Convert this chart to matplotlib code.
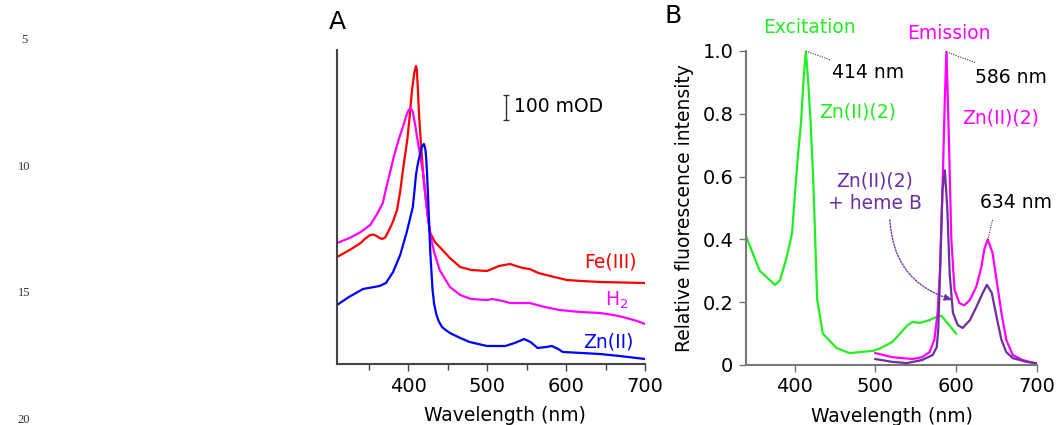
import numpy as np
import matplotlib
matplotlib.use("Agg")
import matplotlib.pyplot as plt

# ---- panel A: absorbance (mOD, offset traces) ----
fe_wl = [310, 326, 340, 345, 352, 356, 360, 363, 367, 371, 376, 381, 386, 390, 393, 395, 399, 402, 405,
         408, 410, 411, 412.5, 414, 416, 419, 421, 424, 426, 428, 434, 440, 453, 466, 480, 500, 515,
         529, 545, 554, 565, 580, 601, 620, 643, 700]
fe_od = [428, 456, 484, 500, 516, 518, 512, 506, 500, 506, 536, 570, 616, 690, 764, 810, 896, 990, 1096,
         1168, 1192, 1180, 1096, 990, 896, 764, 700, 616, 568, 524, 488, 468, 424, 388, 376, 372, 392,
         400, 384, 380, 364, 352, 336, 332, 328, 324]

h2_wl = [310, 326, 340, 352, 360, 368, 372, 377, 382, 388, 392, 395, 398, 400, 403, 406, 409, 412, 419,
         424, 428, 433, 440, 453, 466, 480, 500, 507, 520, 529, 554, 573, 592, 618, 643, 660, 672, 690, 700]
h2_od = [484, 504, 528, 556, 596, 644, 700, 764, 830, 896, 935, 964, 995, 1012, 1024, 1008, 956, 896, 764,
         616, 516, 448, 376, 308, 276, 260, 256, 260, 252, 244, 244, 228, 216, 208, 204, 196, 188, 172, 160]

zn_wl = [310, 325, 343, 364, 372, 381, 390, 394, 398, 402, 406, 408, 410, 412, 414, 417, 419, 420, 421,
         422, 423, 424, 425, 426, 427, 428, 429, 431, 433, 436, 439, 443, 448, 453, 466, 478, 500, 523,
         535, 547, 555, 564, 575, 582, 590, 596, 620, 643, 668, 700]
zn_od = [236, 268, 300, 312, 324, 368, 436, 480, 524, 575, 628, 690, 756, 795, 824, 864, 876, 880, 872,
         856, 820, 764, 690, 616, 536, 456, 400, 296, 240, 196, 170, 148, 135, 124, 104, 88, 72, 72,
         84, 100, 88, 64, 68, 72, 60, 48, 44, 40, 32, 20]

# ---- panel B: fluorescence ----
ex_wl = [340, 357, 376, 382, 390, 397, 400, 404, 408, 411, 414, 417, 420, 423, 425, 428, 435, 452,
         468, 497, 505, 521, 540, 546, 555, 567, 578, 582, 589, 600]
ex_int = [0.41, 0.30, 0.255, 0.27, 0.34, 0.42, 0.525, 0.66, 0.77, 0.90, 1.0, 0.90, 0.77, 0.60, 0.45, 0.21,
          0.10, 0.054, 0.038, 0.045, 0.052, 0.073, 0.127, 0.137, 0.134, 0.143, 0.156, 0.156, 0.134, 0.10]

em_wl = [500, 521, 546, 558, 567, 573, 577, 580, 583, 586, 588, 591, 594, 598, 604, 610, 617, 625,
         631, 635, 639, 645, 650, 656, 662, 670, 682, 697, 700]
em_int = [0.038, 0.025, 0.019, 0.025, 0.041, 0.08, 0.166, 0.30, 0.55, 0.85, 1.0, 0.72, 0.40, 0.24, 0.197,
          0.19, 0.207, 0.25, 0.31, 0.37, 0.40, 0.357, 0.27, 0.166, 0.08, 0.032, 0.016, 0.006, 0.005]

heme_wl = [500, 521, 539, 558, 571, 576, 578, 580, 583, 586, 589, 592, 596, 602, 608, 617, 625, 633,
           638, 644, 650, 656, 662, 670, 687, 700]
heme_int = [0.019, 0.01, 0.006, 0.016, 0.032, 0.057, 0.12, 0.29, 0.557, 0.62, 0.50, 0.29, 0.166, 0.127,
            0.118, 0.143, 0.185, 0.23, 0.255, 0.23, 0.153, 0.08, 0.041, 0.022, 0.01, 0.005]

RED, MAG, BLUE, GREEN, PURPLE = "#ff0000", "#ff00ff", "#0000ff", "#22ee22", "#6b2fa0"
FS = 13.5

plt.rcParams["font.family"] = ["DejaVu Sans"]
fig = plt.figure(figsize=(10.58, 4.25), dpi=100)

# line numbers of the manuscript page
for n, yy in [("5", 40), ("10", 167), ("15", 293), ("20", 420)]:
    fig.text(24 / 1058, 1 - yy / 425, n, family="Liberation Serif", fontsize=9,
             color="#333333", ha="center", va="center")

# ---------- panel A ----------
axA = fig.add_axes([337 / 1058, 1 - 364 / 425, 308 / 1058, 314 / 425])
axA.plot(fe_wl, fe_od, color=RED, lw=1.6)
axA.plot(h2_wl, h2_od, color=MAG, lw=1.6)
axA.plot(zn_wl, zn_od, color=BLUE, lw=1.6)
axA.set_xlim(310, 700)
axA.set_ylim(0, 1256)
axA.set_yticks([])
axA.set_xticks([400, 500, 600, 700])
axA.set_xticks([350, 450, 550, 650], minor=True)
axA.tick_params(axis="x", direction="out", length=5, width=1, color="#444444",
                labelsize=14, pad=4)
axA.tick_params(axis="x", which="minor", direction="out", length=4, width=1, color="#444444")
for s in ["top", "right"]:
    axA.spines[s].set_visible(False)
for s in ["left", "bottom"]:
    axA.spines[s].set_color("#444444")
    axA.spines[s].set_linewidth(1.5)
axA.set_xlabel("Wavelength (nm)", fontsize=FS)
axA.xaxis.set_label_coords(0.545, -0.135)

axA.errorbar([524], [1026], yerr=[50], color="#333333", capsize=2.5, elinewidth=1, capthick=1)
axA.text(534, 1028, "100 mOD", fontsize=FS, ha="left", va="center")
axA.text(656, 408, "Fe(III)", color=RED, fontsize=FS, ha="center", va="center")
axA.text(664, 256, "H$_2$", color=MAG, fontsize=FS, ha="center", va="center")
axA.text(653, 88, "Zn(II)", color=BLUE, fontsize=FS, ha="center", va="center")
fig.text(337 / 1058, 1 - 22 / 425, "A", fontsize=18, ha="center", va="center")

# ---------- panel B ----------
axB = fig.add_axes([746 / 1058, 1 - 365 / 425, 291 / 1058, 314 / 425])
axB.plot(ex_wl, ex_int, color=GREEN, lw=1.6)
axB.plot(em_wl, em_int, color=MAG, lw=1.6)
axB.plot(heme_wl, heme_int, color=PURPLE, lw=1.6)
axB.set_xlim(340, 700)
axB.set_ylim(0, 1.0)
axB.set_xticks([400, 500, 600, 700])
axB.set_yticks([0, 0.2, 0.4, 0.6, 0.8, 1.0])
axB.set_yticklabels(["0", "0.2", "0.4", "0.6", "0.8", "1.0"])
axB.tick_params(direction="out", length=5, width=1, color="#777777", labelsize=14, pad=4)
for s in ["top", "right"]:
    axB.spines[s].set_visible(False)
for s in ["left", "bottom"]:
    axB.spines[s].set_color("#777777")
    axB.spines[s].set_linewidth(1.5)
axB.set_xlabel("Wavelength (nm)", fontsize=FS)
axB.xaxis.set_label_coords(0.5, -0.135)
axB.set_ylabel("Relative fluorescence intensity", fontsize=FS)
axB.yaxis.set_label_coords(-0.18, 0.5)

axB.text(418, 1.076, "Excitation", color=GREEN, fontsize=FS, ha="center", va="center")
axB.text(591, 1.057, "Emission", color=MAG, fontsize=FS, ha="center", va="center")
axB.text(446, 0.933, "414 nm", fontsize=FS, ha="left", va="center")
axB.text(623, 0.917, "586 nm", fontsize=FS, ha="left", va="center")
axB.text(431, 0.806, "Zn(II)(2)", color=GREEN, fontsize=FS, ha="left", va="center")
axB.text(607, 0.787, "Zn(II)(2)", color=MAG, fontsize=FS, ha="left", va="center")
axB.text(499, 0.55, "Zn(II)(2)\n+ heme B", color=PURPLE, fontsize=FS, ha="center",
         va="center", linespacing=1.2)
axB.text(629, 0.519, "634 nm", fontsize=FS, ha="left", va="center")

dot = (0, (1, 1.2))
axB.plot([414, 445], [1.0, 0.971], color="#333333", lw=0.8, ls=dot, clip_on=False)
axB.plot([588, 625], [0.997, 0.962], color="#333333", lw=0.8, ls=dot, clip_on=False)
axB.plot([645, 639], [0.462, 0.398], color="#333333", lw=0.8, ls=dot)
axB.annotate("", xy=(596, 0.207), xytext=(518, 0.462),
             arrowprops=dict(arrowstyle="-|>,head_length=0.5,head_width=0.2", color=PURPLE,
                             lw=1.0, ls=dot, connectionstyle="arc3,rad=0.35",
                             shrinkA=0, shrinkB=0))
fig.text(673 / 1058, 1 - 16 / 425, "B", fontsize=18, ha="center", va="center")

fig.savefig("out.png", dpi=100)
